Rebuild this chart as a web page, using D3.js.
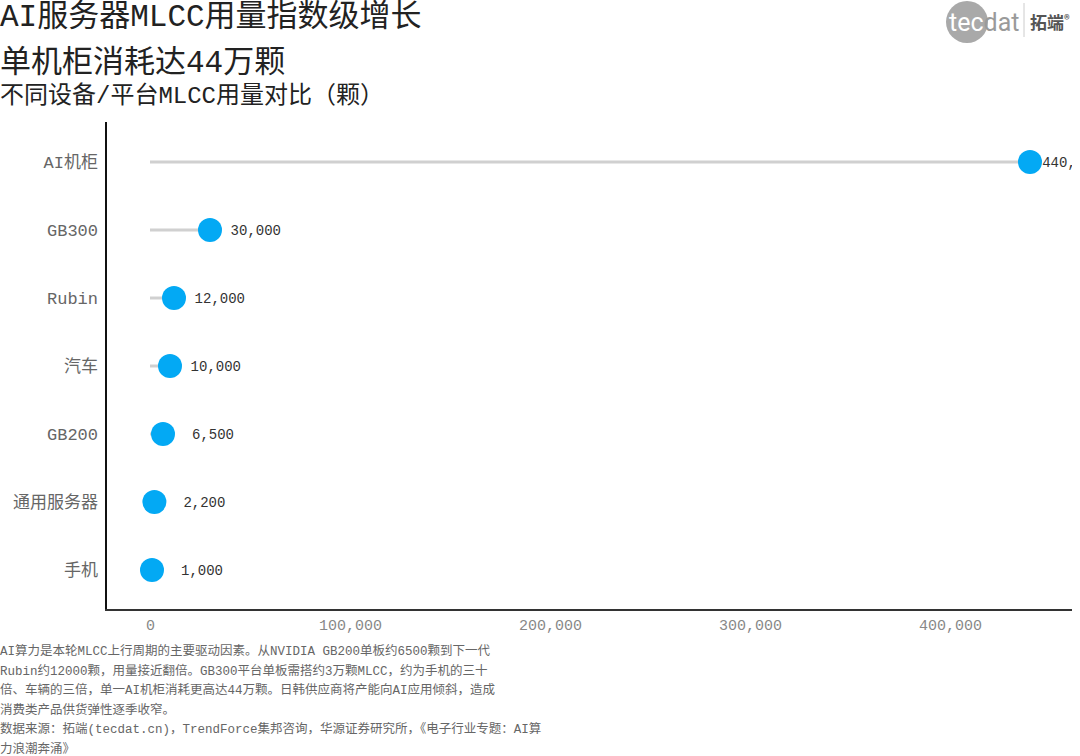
<!DOCTYPE html>
<html>
<head>
<meta charset="utf-8">
<script src="https://cdn.jsdelivr.net/npm/d3@7"></script>
<style>
  body { margin: 0; background: #fff; }
  svg text { font-family: "Liberation Mono", "Noto Sans CJK SC", sans-serif; }
</style>
</head>
<body>
<svg id="chart" width="1080" height="756"></svg>
<script>
const categories = ['AI机柜', 'GB300', 'Rubin', '汽车', 'GB200', '通用服务器', '手机']
const counts = [440000, 30000, 12000, 10000, 6500, 2200, 1000]
const xTicks = [0, 100000, 200000, 300000, 400000]
const titleLines = ['AI服务器MLCC用量指数级增长', '单机柜消耗达44万颗']
const subtitle = '不同设备/平台MLCC用量对比（颗）'
const notes = [
  'AI算力是本轮MLCC上行周期的主要驱动因素。从NVIDIA GB200单板约6500颗到下一代',
  'Rubin约12000颗，用量接近翻倍。GB300平台单板需搭约3万颗MLCC，约为手机的三十',
  '倍、车辆的三倍，单一AI机柜消耗更高达44万颗。日韩供应商将产能向AI应用倾斜，造成',
  '消费类产品供货弹性逐季收窄。',
  '数据来源：拓端(tecdat.cn)，TrendForce集邦咨询，华源证券研究所，《电子行业专题：AI算',
  '力浪潮奔涌》'
]

const data = categories.map((name, i) => ({ name, value: counts[i] }))
const svg = d3.select('#chart')
const plotLeft = 106, plotRight = 1072, plotTop = 122, plotBottom = 610

const x = d3.scaleLinear().domain([-22000, 461000]).range([plotLeft, plotRight])
const y = d3.scalePoint().domain(categories).range([162, 570])
const fmt = d3.format(',')

// titles
svg.selectAll('.title')
  .data(titleLines)
  .enter().append('text')
  .attr('x', 0)
  .attr('y', (d, i) => 26 + i * 46)
  .attr('font-size', 31)
  .attr('fill', '#222')
  .text(d => d)

svg.append('text')
  .attr('x', 0).attr('y', 103)
  .attr('font-size', 24)
  .attr('fill', '#222')
  .text(subtitle)

// logo
const logo = svg.append('g')
logo.append('circle').attr('cx', 967).attr('cy', 22).attr('r', 21).attr('fill', '#a9a9a9')
logo.append('text')
  .attr('x', 949).attr('y', 31)
  .attr('font-size', 25)
  .attr('fill', '#fff')
  .style('font-family', 'Roboto, sans-serif')
  .text('tec')
  .append('tspan').attr('fill', '#9a9a9a').text('dat')
logo.append('line')
  .attr('x1', 1024).attr('x2', 1024).attr('y1', 3).attr('y2', 37)
  .attr('stroke', '#ccc')
logo.append('text')
  .attr('x', 1030).attr('y', 29)
  .attr('font-size', 17)
  .attr('font-weight', 'bold')
  .attr('fill', '#555')
  .style('font-family', '"Noto Sans CJK SC", sans-serif')
  .text('拓端')
  .append('tspan').attr('font-size', 11).attr('dy', -5).text('®')

// clip for value labels
svg.append('clipPath').attr('id', 'plot-clip')
  .append('rect').attr('x', plotLeft).attr('y', plotTop)
  .attr('width', plotRight - plotLeft).attr('height', plotBottom - plotTop)

// stems
svg.append('g').selectAll('line')
  .data(data)
  .enter().append('line')
  .attr('x1', x(0))
  .attr('x2', d => x(d.value))
  .attr('y1', d => y(d.name))
  .attr('y2', d => y(d.name))
  .attr('stroke', '#d0d0d0')
  .attr('stroke-width', 3)

// dots
svg.append('g').selectAll('circle')
  .data(data)
  .enter().append('circle')
  .attr('cx', d => x(d.value))
  .attr('cy', d => y(d.name))
  .attr('r', 12)
  .attr('fill', '#03a9f4')

// value labels
svg.append('g').attr('clip-path', 'url(#plot-clip)')
  .selectAll('text')
  .data(data)
  .enter().append('text')
  .attr('x', d => x(d.value) + 71)
  .attr('y', d => y(d.name))
  .attr('dy', '0.35em')
  .attr('text-anchor', 'end')
  .attr('font-size', 14)
  .attr('fill', '#333')
  .text(d => fmt(d.value))

// category labels
svg.append('g').selectAll('text')
  .data(categories)
  .enter().append('text')
  .attr('x', 98)
  .attr('y', d => y(d))
  .attr('dy', '0.35em')
  .attr('text-anchor', 'end')
  .attr('font-size', 17)
  .attr('fill', '#666')
  .text(d => d)

// x axis
const xAxis = svg.append('g')
  .attr('transform', `translate(0,${plotBottom})`)
  .call(d3.axisBottom(x).tickValues(xTicks).tickFormat(fmt).tickSize(0).tickPadding(9))
xAxis.select('.domain').remove()
xAxis.selectAll('text')
  .attr('font-size', 15)
  .attr('fill', '#888')
  .style('font-family', '"Liberation Mono", "Noto Sans CJK SC", sans-serif')

// axis lines
svg.append('line')
  .attr('x1', plotLeft).attr('x2', plotLeft).attr('y1', plotTop).attr('y2', plotBottom)
  .attr('stroke', '#111').attr('stroke-width', 2)
svg.append('line')
  .attr('x1', plotLeft - 1).attr('x2', plotRight).attr('y1', plotBottom).attr('y2', plotBottom)
  .attr('stroke', '#333').attr('stroke-width', 2)

// notes
svg.selectAll('.note')
  .data(notes)
  .enter().append('text')
  .attr('x', 0)
  .attr('y', (d, i) => 655 + i * 19.6)
  .attr('font-size', 12.5)
  .attr('fill', '#666')
  .text(d => d)
</script>
</body>
</html>
